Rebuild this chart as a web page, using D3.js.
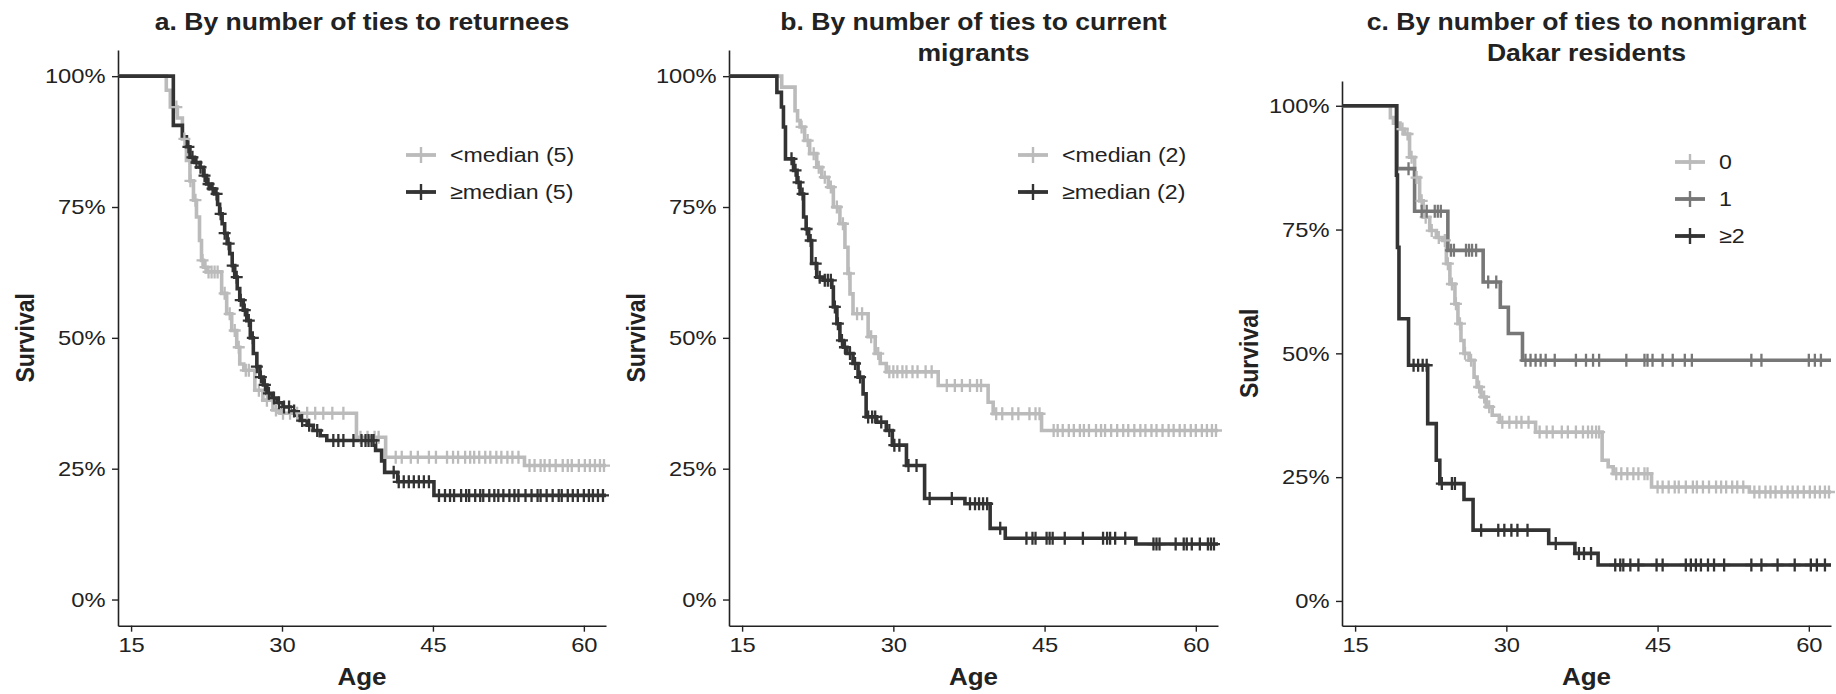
<!DOCTYPE html>
<html lang="en">
<head>
<meta charset="UTF-8">
<title>Survival by number of ties</title>
<script src="https://cdnjs.cloudflare.com/ajax/libs/d3/7.8.5/d3.min.js"></script>
<style>
  body { margin: 0; background: #fff; }
  svg text { font-family: "Liberation Sans", Arial, Helvetica, sans-serif; fill: #222; }
</style>
</head>
<body>
<div id="chart"></div>
<script>
  const ageTicks = [15, 30, 45, 60];
  const survTicks = [0, 0.25, 0.5, 0.75, 1];
  const firstAge = 13.7, lastAge = 62.2;

  // a. ties to returnees
  const aLowT = [13.7, 18.5, 18.9, 19.6, 20.1, 20.5, 20.85, 21.2, 21.5, 21.8, 22.0, 22.2, 22.5, 24.0, 24.5, 25.0, 25.5, 25.8, 26.2, 27.3, 28.1, 29.1, 29.8, 37.4, 40.3, 54.1];
  const aLowS = [1, 0.973, 0.941, 0.92, 0.88, 0.839, 0.80, 0.763, 0.731, 0.686, 0.648, 0.635, 0.626, 0.585, 0.546, 0.514, 0.482, 0.45, 0.438, 0.40, 0.381, 0.362, 0.356, 0.31, 0.272, 0.256];
  const aLowCens = [19.5, 20.3, 20.9, 21.4, 22.1, 22.4, 22.7, 23.0, 23.3, 23.6, 24.3, 24.8, 25.3, 25.7, 26.4, 26.7, 27.7, 28.5, 29.4, 30.1, 30.8, 31.5, 32.5, 33.3, 34.1, 35.0, 36.1, 37.8, 38.5, 39.2, 39.6,
    41.3, 41.9, 42.8, 43.5, 44.6, 45.3, 46.4, 47.0, 47.5, 48.2, 48.7, 49.1, 49.6, 50.2, 50.7, 51.3, 51.8, 52.4, 52.9, 53.5,
    54.6, 55.1, 55.7, 56.1, 56.6, 57.2, 57.9, 58.4, 58.8, 59.5, 60.1, 60.6, 61.1, 61.6, 62.0];
  const aHighT = [13.7, 19.2, 20.1, 20.5, 20.85, 21.3, 21.85, 22.2, 22.5, 22.9, 23.3, 23.6, 23.8, 24.05, 24.3, 24.55, 24.8, 25.05, 25.3, 25.55, 25.8, 26.15, 26.5, 26.85, 27.15, 27.5, 27.8, 28.15, 28.5, 29.0, 29.5, 30.1, 30.8, 31.4, 31.8, 32.5, 33.1, 33.8, 34.45, 39.3, 39.9, 40.2, 41.5, 45.1];
  const aHighS = [1, 0.906, 0.884, 0.865, 0.845, 0.835, 0.826, 0.81, 0.794, 0.785, 0.775, 0.755, 0.737, 0.718, 0.70, 0.68, 0.661, 0.638, 0.616, 0.594, 0.572, 0.553, 0.533, 0.50, 0.47, 0.445, 0.425, 0.41, 0.394, 0.385, 0.376, 0.368, 0.36, 0.352, 0.342, 0.333, 0.323, 0.313, 0.304, 0.285, 0.265, 0.243, 0.225, 0.199];
  const aHighCens = [20.7, 21.1, 21.5, 21.9, 22.3, 22.7, 23.1, 23.5, 23.9, 24.3, 24.7, 25.1, 25.5, 25.9, 26.3, 26.7, 27.1, 27.5, 27.9, 28.3, 28.7, 29.2, 29.7, 30.2, 30.7, 31.2, 32.0, 32.7, 33.5,
    35.1, 35.6, 36.1, 37.1, 37.9, 38.3, 38.6, 38.9, 39.1, 41.1, 41.6, 42.1, 42.6, 43.1, 43.6, 44.1, 44.6,
    45.6, 46.2, 46.7, 47.1, 47.8, 48.3, 48.6, 49.2, 49.7, 50.0, 50.6, 51.1, 51.5, 52.0, 52.6, 53.1, 53.5, 54.2, 54.8, 55.4, 55.7, 56.3, 56.9, 57.5, 57.8, 58.4, 58.9, 59.4, 60.0, 60.5, 60.9, 61.4, 61.9];

  // b. ties to current migrants
  const bLowT = [13.7, 18.93, 20.25, 20.5, 20.75, 21.2, 21.7, 22.4, 22.9, 23.55, 24.05, 24.7, 25.2, 25.5, 25.7, 26.0, 27.5, 28.2, 28.7, 29.3, 34.45, 39.4, 39.9, 44.7];
  const bLowS = [1, 0.979, 0.934, 0.915, 0.903, 0.877, 0.852, 0.826, 0.807, 0.788, 0.75, 0.718, 0.673, 0.623, 0.584, 0.546, 0.502, 0.47, 0.451, 0.435, 0.409, 0.377, 0.355, 0.323];
  const bLowCens = [20.9, 21.5, 22.1, 22.6, 23.2, 23.8, 24.4, 25.0, 25.6, 26.4, 26.9, 27.8, 28.5, 29.6, 30.0, 30.4, 30.9, 31.3, 31.9, 32.4, 33.2, 33.8, 35.3, 36.1, 36.8, 37.6, 38.3, 38.7,
    40.2, 40.8, 41.8, 42.4, 43.5, 44.1, 44.5, 45.9, 46.3, 46.8, 47.4, 47.9, 48.5, 48.9, 49.4, 50.1, 50.6, 51.0, 51.6, 52.2, 52.8, 53.3, 53.9, 54.5, 55.0, 55.6, 56.1, 56.7, 57.3, 57.8, 58.4, 58.9, 59.5, 60.0, 60.6, 61.1, 61.6, 62.0];
  const bHighT = [13.7, 18.45, 18.9, 19.1, 19.3, 20.1, 20.45, 20.75, 21.1, 21.35, 21.6, 21.9, 22.4, 23.05, 23.9, 24.05, 24.4, 24.7, 25.05, 25.4, 26.0, 26.5, 27.0, 27.3, 28.35, 29.3, 29.9, 31.3, 33.1, 37.1, 39.6, 41.1, 54.05];
  const bHighS = [1, 0.969, 0.941, 0.903, 0.842, 0.82, 0.797, 0.775, 0.731, 0.708, 0.686, 0.642, 0.616, 0.61, 0.597, 0.559, 0.527, 0.495, 0.482, 0.47, 0.451, 0.425, 0.393, 0.349, 0.339, 0.323, 0.295, 0.256, 0.193, 0.183, 0.136, 0.117, 0.106];
  const bHighCens = [19.9, 20.3, 20.6, 21.0, 21.4, 21.8, 22.3, 22.7, 23.2, 23.5, 23.8, 24.2, 24.5, 24.9, 25.2, 25.7, 26.2, 26.7, 27.5, 27.9, 28.2, 28.8, 29.6, 30.1, 30.6, 31.5, 32.3, 33.6, 35.8,
    37.6, 38.1, 38.5, 38.9, 39.3, 40.6, 43.2, 43.8, 44.1, 45.2, 45.5, 45.8, 47.0, 48.8, 50.8, 51.2, 51.5, 52.0, 53.0, 55.8, 56.1, 56.4, 58.0, 58.8, 59.1, 59.6, 60.4, 61.2, 61.5, 61.8];

  // c. ties to nonmigrant Dakar residents
  const cZeroT = [13.7, 18.5, 18.8, 19.45, 19.9, 20.4, 20.9, 21.4, 21.75, 22.4, 23.06, 23.7, 24.05, 24.4, 24.9, 25.2, 25.5, 25.8, 26.3, 26.8, 27.1, 27.5, 28.0, 28.6, 29.3, 32.9, 39.5, 40.1, 40.6, 44.4, 54.1];
  const cZeroS = [1, 0.976, 0.965, 0.953, 0.943, 0.896, 0.855, 0.808, 0.775, 0.748, 0.734, 0.728, 0.681, 0.64, 0.60, 0.56, 0.526, 0.50, 0.486, 0.452, 0.432, 0.412, 0.392, 0.375, 0.361, 0.341, 0.284, 0.271, 0.257, 0.23, 0.22];
  const cZeroCens = [19.7, 20.2, 20.6, 21.1, 21.6, 22.0, 22.6, 23.3, 23.9, 24.2, 24.6, 25.0, 25.4, 25.9, 26.5, 27.3, 27.8, 28.3, 29.6, 30.3, 31.0, 31.5, 32.2, 33.3, 34.0, 34.6, 35.5, 36.1, 36.9, 37.6, 38.1, 38.5, 38.9, 39.2,
    40.9, 41.4, 42.0, 42.6, 43.1, 43.7, 44.0, 45.0, 45.5, 46.1, 46.7, 47.1, 47.8, 48.5, 48.9, 49.5, 50.1, 50.8, 51.3, 51.8, 52.4, 52.9, 53.5, 54.6, 55.1, 55.7, 56.2, 56.7, 57.3, 57.9, 58.4, 58.9, 59.5, 60.1, 60.6, 61.1, 61.6, 62.0];
  const cOneT = [13.7, 19.15, 20.9, 24.2, 27.7, 29.4, 30.2, 31.6];
  const cOneS = [1, 0.873, 0.787, 0.708, 0.644, 0.593, 0.54, 0.486];
  const cOneCens = [20.3, 21.6, 22.1, 22.9, 23.2, 23.5, 24.5, 24.8, 26.0, 26.3, 26.6, 27.0, 28.2, 29.0, 31.9, 32.4, 32.9, 33.4, 33.9, 34.8, 36.9, 37.9, 38.6, 39.2,
    41.9, 43.7, 44.0, 44.5, 45.5, 46.5, 47.7, 48.4, 54.3, 55.3, 60.0, 60.6, 61.2];
  const cTwoT = [13.7, 19.1, 19.2, 19.35, 20.3, 22.2, 23.05, 23.4, 25.8, 26.7, 34.2, 36.8, 39.1];
  const cTwoS = [1, 0.86, 0.714, 0.57, 0.476, 0.358, 0.284, 0.237, 0.205, 0.143, 0.116, 0.096, 0.0726];
  const cTwoCens = [20.8, 21.25, 21.7, 22.1, 23.6, 24.6, 24.9, 27.5, 29.2, 29.8, 30.5, 31.1, 32.1, 34.9, 37.2, 37.7, 38.4,
    40.8, 41.3, 41.6, 42.3, 43.1, 44.9, 45.5, 47.8, 48.3, 48.8, 49.3, 50.0, 50.6, 51.6, 54.3, 55.3, 56.9, 58.6, 60.2, 60.8, 61.6];

  const lightGrey = "#bbbbbb", midGrey = "#777777", darkGrey = "#333333";

  const width = 1836, height = 694;
  const K = 1.13; // the picture is a bit wider than tall, so text gets stretched too

  const panels = [
    {
      title: ["a. By number of ties to returnees"],
      xr: [118, 606], yr: [625.7, 50], legendX: 406, legendY: [155, 192],
      series: [
        { name: "<median (5)", t: aLowT, s: aLowS, cens: aLowCens, color: lightGrey },
        { name: "\u2265median (5)", t: aHighT, s: aHighS, cens: aHighCens, color: darkGrey }
      ]
    },
    {
      title: ["b. By number of ties to current", "migrants"],
      xr: [729, 1218], yr: [625.7, 50], legendX: 1018, legendY: [155, 192],
      series: [
        { name: "<median (2)", t: bLowT, s: bLowS, cens: bLowCens, color: lightGrey },
        { name: "\u2265median (2)", t: bHighT, s: bHighS, cens: bHighCens, color: darkGrey }
      ]
    },
    {
      title: ["c. By number of ties to nonmigrant", "Dakar residents"],
      xr: [1342, 1831], yr: [625.7, 81], legendX: 1675, legendY: [162, 199, 236],
      series: [
        { name: "0", t: cZeroT, s: cZeroS, cens: cZeroCens, color: lightGrey },
        { name: "1", t: cOneT, s: cOneS, cens: cOneCens, color: midGrey },
        { name: "\u22652", t: cTwoT, s: cTwoS, cens: cTwoCens, color: darkGrey }
      ]
    }
  ];

  const svg = d3.select("#chart").append("svg")
    .attr("width", width)
    .attr("height", height);

  function label(g, x, y, str, size, weight, anchor, rotate) {
    return g.append("text")
      .attr("transform", `translate(${x},${y}) scale(${K},1)` + (rotate ? " rotate(-90)" : ""))
      .attr("text-anchor", anchor || "middle")
      .style("font-size", size + "px")
      .style("font-weight", weight || "normal")
      .text(str);
  }

  function survAt(ser, age) {
    const i = d3.bisectRight(ser.t, age) - 1;
    return ser.s[Math.max(0, i)];
  }

  const plusPath = "M-6,0H6M0,-6.5V6.5";

  panels.forEach(p => {
    const x = d3.scaleLinear().domain([firstAge, lastAge]).range(p.xr);
    const y = d3.scaleLinear().domain([-0.05, 1.05]).range(p.yr);
    const g = svg.append("g");
    const midX = (p.xr[0] + p.xr[1]) / 2;

    // title
    p.title.forEach((line, i) => {
      label(g, midX, 30 + i * 31, line, 23.5, "bold");
    });

    // axes
    const xAxis = g.append("g")
      .attr("transform", `translate(0,${p.yr[0]})`)
      .call(d3.axisBottom(x).tickValues(ageTicks).tickSize(6).tickSizeOuter(0).tickPadding(5));
    const yAxis = g.append("g")
      .attr("transform", `translate(${p.xr[0]},0)`)
      .call(d3.axisLeft(y).tickValues(survTicks).tickFormat(d3.format(".0%")).tickSize(6).tickSizeOuter(0).tickPadding(5));
    [xAxis, yAxis].forEach(ax => {
      ax.select(".domain").attr("stroke", "#222").attr("stroke-width", 1.6);
      ax.selectAll(".tick line").attr("stroke", "#222").attr("stroke-width", 1.4);
      ax.selectAll(".tick text")
        .attr("transform", `scale(${K},1)`)
        .style("font-size", "21px")
        .attr("fill", "#333");
    });

    label(g, midX, 685, "Age", 23, "bold");
    label(g, p.xr[0] - 84, (p.yr[0] + p.yr[1]) / 2, "Survival", 23, "bold", "middle", true);

    // curves
    const line = d3.line()
      .x(d => x(d[0]))
      .y(d => y(d[1]))
      .curve(d3.curveStepAfter);

    p.series.forEach(ser => {
      const pts = ser.t.map((t, i) => [t, ser.s[i]]);
      pts.push([lastAge, ser.s[ser.s.length - 1]]);
      g.append("path")
        .datum(pts)
        .attr("d", line)
        .attr("fill", "none")
        .attr("stroke", ser.color)
        .attr("stroke-width", 3.6);
    });

    p.series.forEach(ser => {
      g.append("g").selectAll("path")
        .data(ser.cens)
        .join("path")
        .attr("transform", d => `translate(${x(d)},${y(survAt(ser, d))})`)
        .attr("d", plusPath)
        .attr("stroke", ser.color)
        .attr("stroke-width", 2.3);
    });

    // legend
    p.series.forEach((ser, i) => {
      const ly = p.legendY[i];
      const lg = g.append("g").attr("transform", `translate(${p.legendX},${ly})`);
      lg.append("line")
        .attr("x1", 0).attr("x2", 30)
        .attr("stroke", ser.color).attr("stroke-width", 3.8);
      lg.append("path")
        .attr("transform", "translate(15,0)")
        .attr("d", "M-7,0H7M0,-8V8")
        .attr("stroke", ser.color).attr("stroke-width", 2.4);
      label(lg, 44, 7, ser.name, 20.5, "normal", "start");
    });
  });
</script>
</body>
</html>
